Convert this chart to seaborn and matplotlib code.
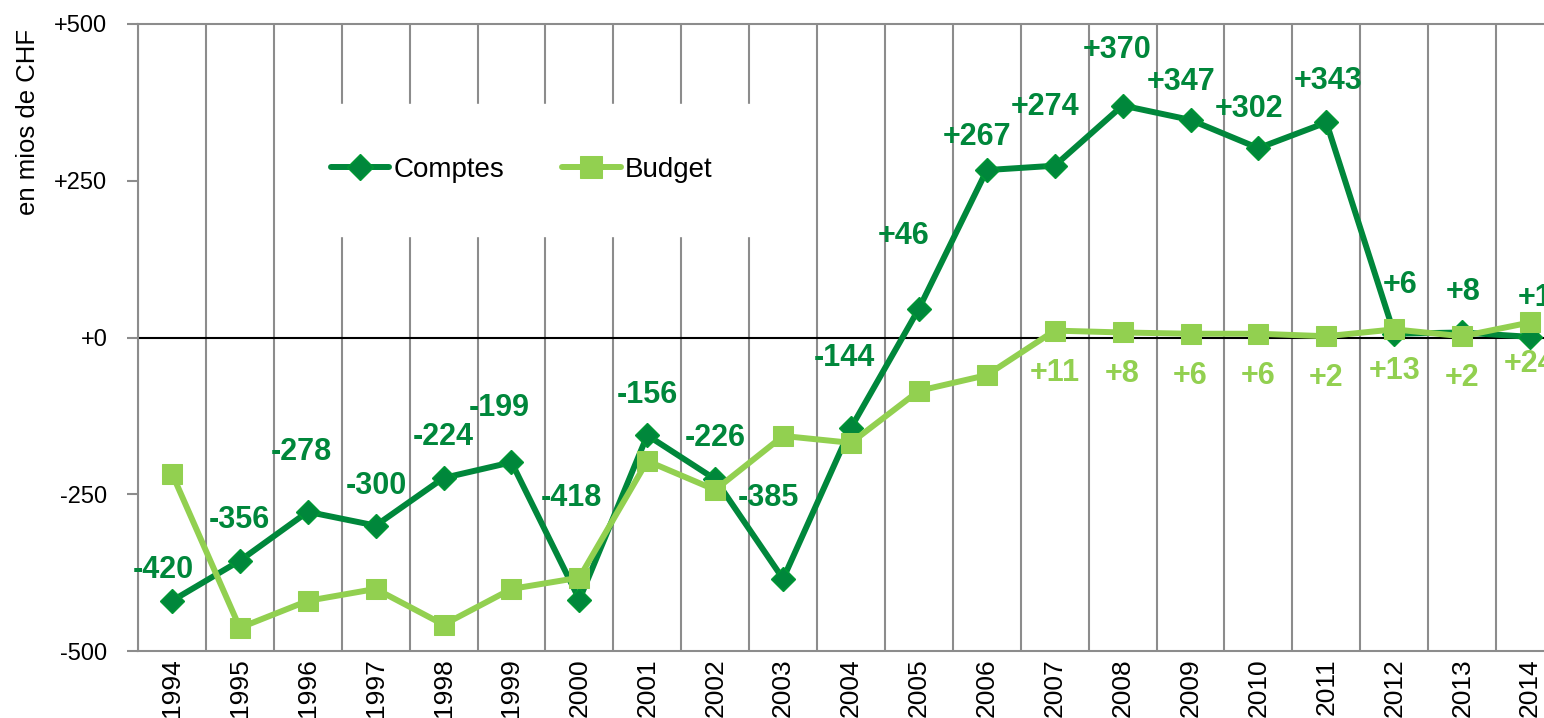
import pandas as pd
import matplotlib
matplotlib.use("Agg")
import matplotlib.pyplot as plt
import seaborn as sns

years = list(range(1994, 2015))
comptes = [-420, -356, -278, -300, -224, -199, -418, -156, -226, -385, -144,
           46, 267, 274, 370, 347, 302, 343, 6, 8, 1]
budget = [-217, -463, -420, -401, -458, -401, -383, -197, -243, -157, -168,
          -85, -60, 11, 8, 6, 6, 2, 13, 2, 24]
budget_labelled = [False] * 13 + [True] * 8

# label offsets in pixels (dx, dy) from each point, as placed on the original
comptes_offsets = [(-9, 31), (0, 41), (-6, 60), (1, 40), (0, 41), (-12, 54),
                   (-8, 102), (0, 40), (0, 41), (-15, 81), (-7, 70), (-15, 73),
                   (-10, 33), (-10, 59), (-5, 56), (-9, 38), (-9, 39), (2, 41),
                   (6, 49), (1, 40), (5, 39)]

dark = "#00873B"
light = "#92D050"
grid = "#8C8C8C"

df = pd.DataFrame({"Année": years, "Comptes": comptes, "Budget": budget})

sns.set_style("white")
plt.rcParams["font.family"] = ["Liberation Sans", "DejaVu Sans"]
plt.rcParams["text.color"] = "black"
plt.rcParams["xtick.labelcolor"] = "black"
plt.rcParams["ytick.labelcolor"] = "black"

fig = plt.figure(figsize=(15.44, 7.18), dpi=100)
ax = fig.add_axes([138 / 1544, 1 - 651 / 718, 1426 / 1544, 627 / 718])

sns.lineplot(data=df, x="Année", y="Comptes", ax=ax, color=dark, lw=4.3,
             marker="D", markersize=12, markeredgecolor="#009933",
             markeredgewidth=1, label="Comptes", zorder=4)
sns.lineplot(data=df, x="Année", y="Budget", ax=ax, color=light, lw=4.3,
             marker="s", markersize=14, markeredgecolor=light,
             label="Budget", zorder=5)

ax.set_xlim(1993.5, 2014.5)
ax.set_ylim(-500, 500)
ax.set_yticks([-500, -250, 0, 250, 500])
ax.set_yticklabels(["-500", "-250", "+0", "+250", "+500"], fontsize=17)
ax.set_xticks(years)
ax.set_xticklabels([str(y) for y in years], rotation=90, fontsize=19)
ax.set_xticks([y + 0.5 for y in range(1993, 2015)], minor=True)
ax.tick_params(axis="x", which="major", length=0, pad=5)
ax.tick_params(axis="x", which="minor", length=0)
ax.tick_params(axis="y", length=8, width=1.5, color=grid, pad=14, left=True)
ax.grid(axis="x", which="minor", color=grid, lw=1.5, zorder=0)
ax.grid(axis="x", which="major", visible=False)
ax.axhline(0, color="black", lw=1.5, zorder=2)
ax.set_xlabel("")
ax.set_ylabel("")
for side in ["top", "left", "bottom", "right"]:
    ax.spines[side].set_color(grid)
    ax.spines[side].set_linewidth(1.5)

for x, v, (dx, dy) in zip(years, comptes, comptes_offsets):
    ax.annotate(f"{v:+d}", (x, v), xytext=(dx, dy), textcoords="offset pixels",
                ha="center", va="center", fontsize=22, fontweight="bold",
                color=dark, zorder=6, annotation_clip=False)
for x, v, show in zip(years, budget, budget_labelled):
    if show:
        ax.annotate(f"{v:+d}", (x, v), xytext=(0, -42), textcoords="offset pixels",
                    ha="center", va="center", fontsize=22, fontweight="bold",
                    color=light, zorder=6, annotation_clip=False)

leg = ax.legend(loc="center", bbox_to_anchor=(0.269, 0.767), ncol=2,
                fontsize=20, frameon=True, facecolor="white", edgecolor="white",
                framealpha=1, fancybox=False, borderpad=1.9, markerscale=1.1,
                handlelength=2.1, handletextpad=0.15, columnspacing=2.1)
leg.set_zorder(3)

fig.text(28 / 1544, 1 - 122 / 718, "en mios de CHF", rotation=90,
         ha="center", va="center", fontsize=18.5)

fig.savefig("out.png", dpi=100)
